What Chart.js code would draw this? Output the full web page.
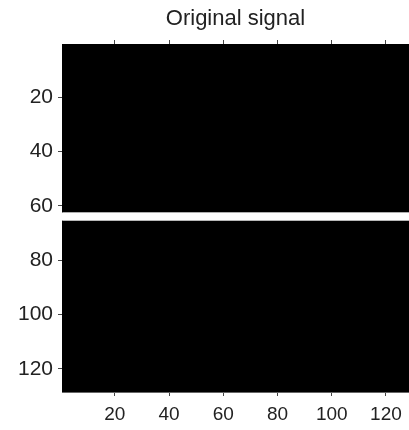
<!DOCTYPE html>
<html>
<head>
<meta charset="utf-8">
<script src="https://cdn.jsdelivr.net/npm/chart.js@4"></script>
<style>
    html, body { margin: 0; padding: 0; background: #fff; }
    #wrap { width: 409px; height: 430px; }
</style>
</head>
<body>
<div id="wrap"><canvas id="signalChart"></canvas></div>
<script>
// image is 128 x 128, all black except a bright band of rows
const imageSize = 128;
const brightRows = [63, 64, 65];
const brightLevel = [1, 1, 1];
const xTickValues = [20, 40, 60, 80, 100, 120];
const yTickValues = [20, 40, 60, 80, 100, 120];
const titleText = 'Original signal';

function grey(v) {
    const c = Math.round(v * 255);
    return 'rgb(' + c + ',' + c + ',' + c + ')';
}

function rowLevel(r) {
    const idx = brightRows.indexOf(r);
    return idx >= 0 ? brightLevel[idx] : 0;
}

// draws the image through the chart scales, merging equal neighbouring rows
const imagePlugin = {
    id: 'imagePlugin',
    beforeDatasetsDraw: function(chart) {
        const ctx = chart.ctx;
        const x = chart.scales.x;
        const y = chart.scales.y;
        const left = x.getPixelForValue(0.5);
        const right = x.getPixelForValue(imageSize + 0.5);
        ctx.save();
        let start = 1;
        for (let r = 2; r <= imageSize + 1; r++) {
            if (r > imageSize || rowLevel(r) !== rowLevel(start)) {
                const top = y.getPixelForValue(start - 0.5);
                const bottom = y.getPixelForValue(r - 0.5);
                ctx.fillStyle = grey(rowLevel(start));
                ctx.fillRect(left, top, right - left, bottom - top);
                start = r;
            }
        }
        ctx.restore();
    }
};

// title centred over the image, like the matlab axes title
const titlePlugin = {
    id: 'axesTitle',
    afterDraw: function(chart) {
        const ctx = chart.ctx;
        const area = chart.chartArea;
        ctx.save();
        ctx.fillStyle = '#222';
        ctx.font = '22px "Liberation Sans", Arial, sans-serif';
        ctx.textAlign = 'center';
        ctx.textBaseline = 'middle';
        ctx.fillText(titleText, (area.left + area.right) / 2, 19);
        ctx.restore();
    }
};

function setTicks(values) {
    return function(scale) {
        scale.ticks = values.map(function(v) { return { value: v }; });
    };
}

const tickGrid = {
    drawOnChartArea: false,
    drawTicks: true,
    tickLength: 4,
    color: '#444'
};

new Chart(document.getElementById('signalChart'), {
    type: 'scatter',
    data: { datasets: [{ data: [], pointRadius: 0 }] },
    plugins: [imagePlugin, titlePlugin],
    options: {
        responsive: true,
        maintainAspectRatio: false,
        animation: false,
        layout: { padding: { right: -2, left: 0, top: 39, bottom: 0 } },
        plugins: {
            legend: { display: false },
            tooltip: { enabled: false },
            title: { display: false }
        },
        scales: {
            x: {
                type: 'linear',
                position: 'bottom',
                min: 0.5,
                max: imageSize + 0.5,
                afterBuildTicks: setTicks(xTickValues),
                afterFit: function(scale) { scale.height = 38; },
                grid: tickGrid,
                border: { display: true, color: '#666', width: 1 },
                ticks: {
                    color: '#222',
                    padding: 7,
                    maxRotation: 0,
                    autoSkip: false,
                    font: { family: 'Liberation Sans, Arial, sans-serif', size: 19 }
                }
            },
            x2: {
                type: 'linear',
                position: 'top',
                min: 0.5,
                max: imageSize + 0.5,
                afterBuildTicks: setTicks(xTickValues),
                afterFit: function(scale) { scale.height = 5; },
                grid: tickGrid,
                border: { display: false },
                ticks: { display: false }
            },
            y: {
                type: 'linear',
                reverse: true,
                min: 0.5,
                max: imageSize + 0.5,
                afterBuildTicks: setTicks(yTickValues),
                afterFit: function(scale) { scale.width = 62; },
                grid: tickGrid,
                border: { display: true, color: '#666', width: 1 },
                ticks: {
                    color: '#222',
                    padding: 5,
                    autoSkip: false,
                    font: { family: 'Liberation Sans, Arial, sans-serif', size: 21 }
                }
            }
        }
    }
});
</script>
</body>
</html>
